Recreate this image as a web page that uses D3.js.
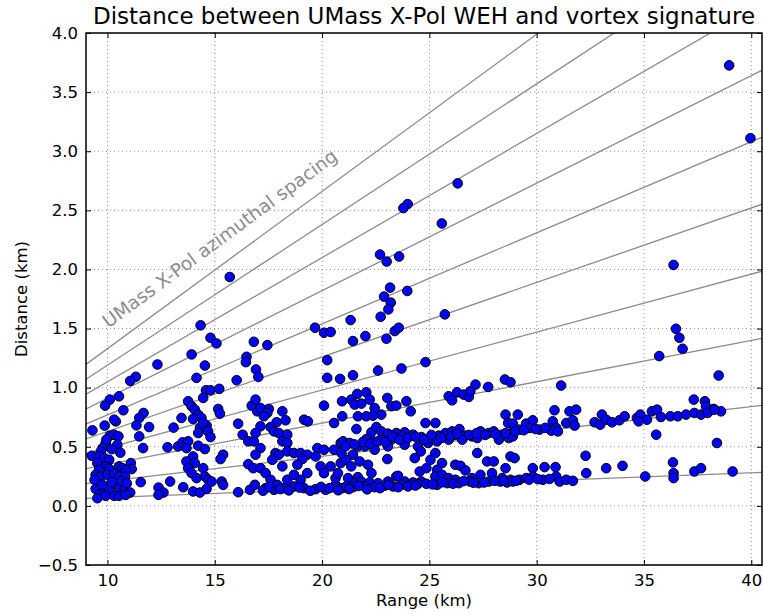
<!DOCTYPE html>
<html><head><meta charset="utf-8">
<script src="https://cdn.jsdelivr.net/npm/d3@7"></script>
<style>body{margin:0;background:#fff}svg{display:block}text{font-family:"DejaVu Sans",sans-serif}</style>
</head><body><svg id="c" width="763" height="613"></svg>
<script>
const title = "Distance between UMass X-Pol WEH and vortex signature";
const xLabel = "Range (km)";
const yLabel = "Distance (km)";
const noteText = "UMass X-Pol azimuthal spacing";
const xTicks = [10,15,20,25,30,35,40];
const yTicks = [-0.5,0,0.5,1,1.5,2,2.5,3,3.5,4];
// slopes (km per km) of the azimuthal-spacing reference lines
const lineSlopes = [0.0070,0.0210,0.0350,0.0490,0.0630,0.0770,0.0910,0.1050,0.1190,0.1330];
// [range km, distance km]
const points = [
[12.33,1.196],[11.32,1.092],[11.06,1.057],[10.54,0.927],[10.11,0.899],[9.89,0.848],[10.74,0.809],[11.68,0.786],[11.48,0.744],[9.30,0.639],[9.87,0.679],[10.39,0.715],[10.31,0.729],[11.35,0.681],[11.94,0.667],[11.48,0.588],[13.08,0.662],[10.11,0.594],[10.31,0.602],[10.51,0.588],[9.92,0.532],[9.77,0.489],[9.69,0.461],[10.46,0.517],[11.66,0.489],[12.80,0.495],
[9.27,0.424],[9.61,0.418],[9.84,0.404],[10.08,0.390],[9.53,0.362],[9.95,0.334],[9.61,0.305],[10.08,0.314],[11.09,0.362],[11.13,0.311],[10.54,0.334],[10.70,0.319],[10.85,0.305],[9.45,0.263],[9.69,0.249],[10.00,0.263],[10.31,0.271],[10.54,0.249],[10.82,0.249],[11.55,0.201],[12.92,0.206],[9.45,0.144],[9.84,0.136],[10.08,0.144],[10.54,0.150],[10.82,0.144],[11.06,0.113],[9.61,0.093],[9.92,0.085],[10.31,0.085],[10.54,0.085],[10.85,0.093],[9.53,0.065],[12.38,0.155],[12.61,0.113],[12.38,0.093],
[14.34,1.527],[14.80,1.422],[15.08,1.374],[16.82,1.388],[13.92,1.281],[14.54,1.187],[14.15,1.083],[16.48,1.261],[16.45,1.216],[16.92,1.154],[16.02,1.063],[17.03,1.091],[14.59,0.978],[14.80,0.978],[15.21,0.990],[14.46,0.913],[13.76,0.885],[13.92,0.843],[14.07,0.814],[14.23,0.772],[14.38,0.744],[13.99,0.735],[13.45,0.744],[15.16,0.820],[15.24,0.780],[16.72,0.848],[16.98,0.800],[16.09,0.695],[14.31,0.659],[14.62,0.679],[14.69,0.630],[14.80,0.582],[14.23,0.616],[14.46,0.701],[16.30,0.602],[16.56,0.546],[16.82,0.546],[13.29,0.503],[13.50,0.537],[13.76,0.546],[13.68,0.489],[14.23,0.509],[14.54,0.481],[15.39,0.433],[15.27,0.396],[16.56,0.353],[16.79,0.319],
[13.99,0.418],[13.68,0.376],[14.07,0.362],[13.76,0.319],[14.46,0.319],[13.92,0.277],[14.54,0.249],[14.69,0.221],[14.85,0.206],[14.15,0.235],[13.53,0.158],[13.99,0.122],[14.31,0.113],[14.62,0.144],[15.32,0.206],[15.39,0.178],[16.09,0.116],[16.64,0.136],[16.87,0.178],
[19.67,1.507],[20.09,1.465],[20.40,1.471],[17.45,1.360],[20.24,1.233],[20.24,1.083],[20.84,1.074],[20.09,0.848],[16.90,0.899],[17.13,0.828],[17.52,0.820],[17.45,0.786],[18.15,0.800],[17.29,0.758],[19.16,0.729],[19.34,0.715],[20.56,0.701],[20.94,0.758],[17.88,0.707],[18.30,0.724],[17.13,0.673],[17.60,0.667],[17.76,0.630],[17.99,0.616],[18.38,0.602],[18.15,0.546],[18.38,0.532],[16.90,0.616],
[17.13,0.489],[16.90,0.433],[17.83,0.447],[17.99,0.433],[17.68,0.390],[18.15,0.334],[18.38,0.461],[18.69,0.447],[19.00,0.447],[19.31,0.433],[19.78,0.489],[20.09,0.475],[20.56,0.475],[20.87,0.532],[19.70,0.418],[19.08,0.396],[18.85,0.348],[19.31,0.277],[19.93,0.334],[20.40,0.334],[20.87,0.362],[17.13,0.319],[17.37,0.277],[17.60,0.221],[17.37,0.150],[17.76,0.136],[18.22,0.150],[18.69,0.164],[19.16,0.150],[19.70,0.141],[20.17,0.136],[20.63,0.178],[20.94,0.150],[17.91,0.178],[18.38,0.221],[19.00,0.221],[20.09,0.277],[20.63,0.235],[18.69,0.263],
[22.73,1.600],[21.33,1.572],[23.39,1.479],[23.57,1.507],[23.00,1.414],[22.02,1.436],[21.44,1.394],[24.82,1.216],[23.70,1.162],[22.61,1.145],[21.44,1.105],
[20.93,0.885],[21.36,0.899],[21.64,0.947],[22.06,0.961],[21.52,0.857],[21.83,0.865],[22.22,0.899],[23.04,0.913],[22.45,0.828],[22.76,0.772],[23.23,0.843],[23.46,0.848],[23.93,0.885],[24.13,0.800],[21.67,0.758],[22.06,0.758],[22.37,0.763],[24.82,0.701],[21.60,0.650],[22.30,0.622],[22.53,0.667],[22.76,0.630],[23.07,0.611],[23.46,0.616],[23.85,0.622],[24.24,0.602],[24.63,0.582],[23.23,0.560],[23.70,0.588],[22.76,0.560],[22.37,0.546],[22.06,0.565],[20.98,0.546],[21.29,0.532],[21.67,0.503],[21.99,0.503],[22.45,0.475],[23.07,0.503],[23.85,0.517],[24.47,0.503],[24.94,0.532],[24.32,0.404],[24.60,0.461],[23.04,0.396],[21.44,0.433],[21.13,0.390],[21.75,0.376],[21.36,0.334],[22.14,0.348],[22.30,0.277],[24.55,0.291],[24.86,0.319],[20.90,0.447],[20.74,0.277],[21.21,0.235],[21.67,0.243],
[21.13,0.164],[21.52,0.192],[21.83,0.206],[22.22,0.198],[22.61,0.192],[23.07,0.206],[23.46,0.249],[23.85,0.206],[24.24,0.198],[24.63,0.206],[21.44,0.158],[21.99,0.164],[22.45,0.158],[22.92,0.170],[23.31,0.164],[23.70,0.178],[24.08,0.178],[24.47,0.187],[24.86,0.187],[23.54,0.254],
[25.72,1.620],[27.15,1.026],[27.74,1.006],[28.52,1.069],[28.78,1.046],[25.90,0.927],[26.06,0.893],[26.29,0.961],[26.60,0.941],[26.84,0.922],[26.91,0.970],
[25.28,0.701],[28.55,0.772],[28.67,0.701],[25.05,0.574],[25.44,0.594],[25.75,0.616],[26.06,0.630],[26.40,0.650],[26.68,0.594],[26.99,0.588],[27.38,0.630],[27.77,0.616],[28.00,0.630],[28.39,0.602],[28.73,0.602],[25.36,0.546],[25.90,0.560],[26.53,0.560],[27.23,0.574],[28.24,0.560],[28.70,0.574],[26.21,0.602],
[25.28,0.447],[25.05,0.390],[27.23,0.447],[27.69,0.376],[28.00,0.376],[28.55,0.319],[28.78,0.418],[25.59,0.362],[25.36,0.305],[26.21,0.348],[26.45,0.339],[26.68,0.300],[25.28,0.249],[25.59,0.263],[25.90,0.235],[26.21,0.221],[26.99,0.235],[27.38,0.263],[27.92,0.277],[28.39,0.235],[28.78,0.221],[25.36,0.178],[25.83,0.192],[26.37,0.192],[26.91,0.206],[27.30,0.192],[27.77,0.206],[28.31,0.206],[28.62,0.198],
[31.14,1.018],[30.83,0.809],[31.53,0.800],[31.84,0.814],[29.12,0.772],[28.89,0.696],[28.81,0.616],[29.51,0.696],[29.82,0.724],[30.13,0.645],[30.75,0.715],[30.91,0.659],[31.38,0.701],[31.69,0.724],[31.77,0.679],[32.70,0.707],[29.20,0.645],[29.67,0.659],[30.68,0.636],[30.99,0.630],[28.89,0.588],[28.97,0.404],[32.28,0.424],[32.31,0.277],[29.82,0.319],[30.37,0.328],[30.88,0.328],[28.89,0.206],[29.20,0.221],[29.51,0.235],[29.82,0.249],[30.29,0.221],[30.91,0.249],[31.07,0.206],[31.38,0.221],[31.69,0.212],
[35.71,1.267],[33.04,0.772],[32.96,0.687],[33.24,0.729],[33.51,0.707],[33.86,0.724],[34.10,0.758],[34.67,0.744],[34.83,0.772],[35.14,0.729],[35.37,0.800],[35.61,0.814],[35.79,0.752],[36.23,0.758],[34.75,0.715],[35.57,0.602],[33.24,0.319],[34.00,0.339],[35.06,0.249],[36.35,0.368],[36.38,0.277],[36.38,0.235],
[36.49,1.498],[36.65,1.422],[36.80,1.329],[38.48,1.103],[37.32,0.899],[37.84,0.885],[37.89,0.843],[38.25,0.820],[36.57,0.758],[36.96,0.772],[37.35,0.786],[37.66,0.772],[37.97,0.786],[38.59,0.800],[38.28,0.814],[38.40,0.532],[37.35,0.291],[37.66,0.319],[39.13,0.291],
[15.70,1.936],[26.32,2.728],[23.99,2.553],[23.79,2.519],[25.58,2.389],[22.70,2.126],[23.01,2.067],[23.59,2.109],[23.17,1.846],[22.89,1.770],[23.97,1.818],[23.20,1.719],[23.09,1.662],[38.97,3.726],[39.96,3.110],[36.38,2.038],
[17.25,0.128],[17.55,0.160],[18.05,0.142],[18.45,0.131],[18.95,0.155],[19.45,0.128],[19.95,0.160],[20.35,0.150],[20.75,0.132],[21.25,0.142],[21.70,0.168],[22.10,0.140],[22.70,0.150],[23.10,0.178],[23.55,0.158],[24.00,0.165],[24.35,0.172],[25.15,0.182],[25.60,0.200],[26.10,0.188],[26.60,0.210],[27.05,0.196],[27.55,0.198],[28.05,0.212],[28.45,0.216],[29.05,0.213],[29.65,0.222],[30.05,0.226],[30.60,0.228],
[21.10,0.505],[21.50,0.520],[21.90,0.540],[22.25,0.525],[22.60,0.545],[22.95,0.540],[23.30,0.585],[23.60,0.560],[24.00,0.575],[24.35,0.585],[24.75,0.560],[25.10,0.600],[25.55,0.575],[26.00,0.590],[26.30,0.610],[26.85,0.600],[27.20,0.615],[27.60,0.600],[28.10,0.605],[28.55,0.615],[29.00,0.630],[29.40,0.640],[29.95,0.650],[30.40,0.660],
[9.75,0.180],[10.20,0.200],[10.65,0.210],[9.40,0.220],[10.90,0.190],[9.95,0.560],[10.60,0.450],[10.20,0.480]
];

const W = 763, H = 613;
const L = 86, R = 762, T = 33, B = 565;
const svg = d3.select("#c");
const x = d3.scaleLinear().domain([9, 40.5]).range([L, R]);
const y = d3.scaleLinear().domain([-0.5, 4.0]).range([B, T]);
const fmtY = v => (v < 0 ? "\u2212" : "") + Math.abs(v).toFixed(1);

svg.append("defs").append("clipPath").attr("id","clip")
  .append("rect").attr("x",L).attr("y",T).attr("width",R-L).attr("height",B-T);

// grid
const grid = svg.append("g").attr("stroke","#000").attr("stroke-width",0.8)
  .attr("stroke-dasharray","1,3").attr("opacity",0.55);
xTicks.forEach(v => grid.append("line").attr("x1",x(v)).attr("x2",x(v)).attr("y1",T).attr("y2",B));
yTicks.forEach(v => grid.append("line").attr("x1",L).attr("x2",R).attr("y1",y(v)).attr("y2",y(v)));

// reference lines
const plot = svg.append("g").attr("clip-path","url(#clip)");
const line = d3.line().x(d=>x(d[0])).y(d=>y(d[1]));
lineSlopes.forEach(s => {
  plot.append("path").attr("d", line([[0,0],[42,42*s]]))
    .attr("fill","none").attr("stroke","#8c8c8c").attr("stroke-width",1.3);
});

// annotation
svg.append("text").attr("transform",`translate(${x(10.05)},${y(1.5)}) rotate(-36.4)`)
  .attr("font-size",18.5).attr("fill","#8c8c8c").text(noteText);

// points
plot.append("g").selectAll("circle").data(points).join("circle")
  .attr("cx",d=>x(d[0])).attr("cy",d=>y(d[1])).attr("r",4.8)
  .attr("fill","#0000ff").attr("stroke","#000").attr("stroke-width",1);

// axes (ticks inside)
const tl = 5;
const ax = svg.append("g");
ax.append("g").attr("transform",`translate(0,${B})`)
  .call(d3.axisBottom(x).tickValues(xTicks).tickSize(-tl).tickPadding(9).tickFormat(d=>d))
  .call(g=>{g.select(".domain").remove();g.selectAll("text").attr("font-size",16.5).attr("fill","#000").attr("font-family","DejaVu Sans");});
ax.append("g").attr("transform",`translate(0,${T})`)
  .call(d3.axisTop(x).tickValues(xTicks).tickSize(-tl).tickFormat(""))
  .call(g=>g.select(".domain").remove());
ax.append("g").attr("transform",`translate(${L},0)`)
  .call(d3.axisLeft(y).tickValues(yTicks).tickSize(-tl).tickPadding(8).tickFormat(fmtY))
  .call(g=>{g.select(".domain").remove();g.selectAll("text").attr("font-size",16.5).attr("fill","#000").attr("font-family","DejaVu Sans");});
ax.append("g").attr("transform",`translate(${R},0)`)
  .call(d3.axisRight(y).tickValues(yTicks).tickSize(-tl).tickFormat(""))
  .call(g=>g.select(".domain").remove());

svg.append("rect").attr("x",L).attr("y",T).attr("width",R-L).attr("height",B-T)
  .attr("fill","none").attr("stroke","#000").attr("stroke-width",1.5);

svg.append("text").attr("x",(L+R)/2).attr("y",24).attr("text-anchor","middle")
  .attr("font-size",23).text(title);
svg.append("text").attr("x",(L+R)/2).attr("y",606).attr("text-anchor","middle")
  .attr("font-size",16.5).text(xLabel);
svg.append("text").attr("transform",`translate(27,${(T+B)/2}) rotate(-90)`).attr("text-anchor","middle")
  .attr("font-size",16.5).text(yLabel);
</script></body></html>
